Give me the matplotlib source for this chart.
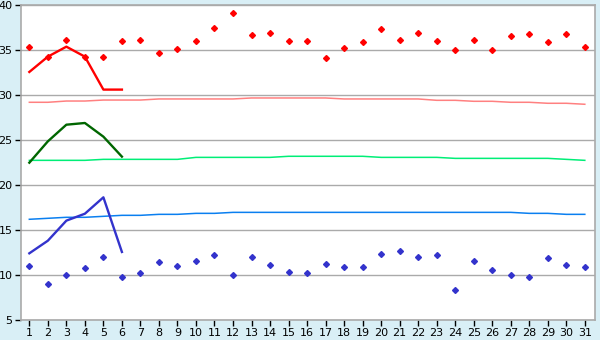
import matplotlib
matplotlib.use("Agg")
import matplotlib.pyplot as plt

days = list(range(1, 32))

high_pts = [35.3, 34.26, 36.07, 34.26, 34.26, 35.96, 36.07, 34.63, 35.07, 35.96,
            37.41, 39.07, 36.63, 36.85, 35.96, 35.96, 34.07, 35.19, 35.85, 37.3,
            36.07, 36.85, 35.96, 34.96, 36.07, 34.96, 36.52, 36.74, 35.85, 36.74, 35.3]
low_pts = [10.96, 8.96, 9.96, 10.74, 11.96, 9.74, 10.19, 11.41, 10.96, 11.52,
           12.19, 9.96, 11.96, 11.08, 10.3, 10.19, 11.19, 10.85, 10.85, 12.3,
           12.63, 11.96, 12.19, 8.3, 11.52, 10.52, 9.96, 9.74, 11.85, 11.08, 10.85]

line_days = [1, 2, 3, 4, 5, 6]
red_line = [32.56, 34.26, 35.37, 34.26, 30.6, 30.6]
green_line = [22.48, 24.85, 26.7, 26.89, 25.37, 23.15]
blue_line = [12.41, 13.81, 16.04, 16.81, 18.63, 12.56]

pink_flat = [29.19, 29.19, 29.33, 29.33, 29.44, 29.44, 29.44, 29.56, 29.56, 29.56,
             29.56, 29.56, 29.67, 29.67, 29.67, 29.67, 29.67, 29.56, 29.56, 29.56,
             29.56, 29.56, 29.41, 29.41, 29.3, 29.3, 29.19, 29.19, 29.08, 29.08, 28.97]
green_flat = [22.74, 22.74, 22.74, 22.74, 22.85, 22.85, 22.85, 22.85, 22.85, 23.07,
              23.07, 23.07, 23.07, 23.07, 23.19, 23.19, 23.19, 23.19, 23.19, 23.07,
              23.07, 23.07, 23.07, 22.96, 22.96, 22.96, 22.96, 22.96, 22.96, 22.85, 22.74]
blue_flat = [16.19, 16.3, 16.41, 16.41, 16.52, 16.63, 16.63, 16.74, 16.74, 16.85,
             16.85, 16.96, 16.96, 16.96, 16.96, 16.96, 16.96, 16.96, 16.96, 16.96,
             16.96, 16.96, 16.96, 16.96, 16.96, 16.96, 16.96, 16.85, 16.85, 16.74, 16.74]

yticks = [5, 10, 15, 20, 25, 30, 35, 40]

fig = plt.figure(figsize=(6, 3.4), dpi=100)
fig.patch.set_facecolor("#d9eff6")
ax = fig.add_axes([21 / 600, 1 - 320 / 340, (595 - 21) / 600, (320 - 5) / 340])
ax.set_facecolor("white")

for y in yticks:
    ax.axhline(y, color="#aaaaaa", lw=1.0, zorder=1)

ax.plot(days, pink_flat, color="#ff8080", lw=1.1, zorder=2)
ax.plot(days, green_flat, color="#00ee77", lw=1.1, zorder=2)
ax.plot(days, blue_flat, color="#0a7ff0", lw=1.1, zorder=2)

ax.plot(line_days, red_line, color="#ff0000", lw=1.7, zorder=3)
ax.plot(line_days, green_line, color="#006600", lw=1.7, zorder=3)
ax.plot(line_days, blue_line, color="#3333cc", lw=1.7, zorder=3)

ax.plot(days, high_pts, linestyle="none", marker="D", markersize=3.0,
        color="#ff0000", zorder=4)
ax.plot(days, low_pts, linestyle="none", marker="D", markersize=3.0,
        color="#3333cc", zorder=4)

ax.set_xlim(0.55, 31.55)
ax.set_ylim(5, 40)
ax.set_xticks(days)
ax.set_xticklabels([str(d) for d in days])
ax.set_yticks(yticks)
ax.tick_params(axis="both", labelsize=8, color="black", length=4, width=1, pad=2)
for side in ["left", "bottom", "top", "right"]:
    ax.spines[side].set_color("#aaaaaa")
    ax.spines[side].set_linewidth(1.2)

fig.savefig("out.png", dpi=100, facecolor=fig.get_facecolor())
